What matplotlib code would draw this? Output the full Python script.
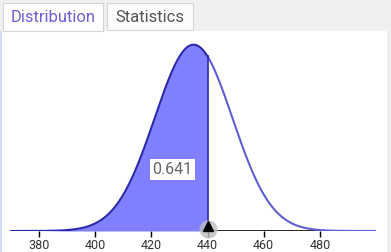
import numpy as np
import matplotlib.pyplot as plt
from matplotlib.patches import Rectangle

# ---------------- data ----------------
mean = 435
sd = 13.85
upper = 440
prob_label = "0.641"
tick_values = [380, 400, 420, 440, 460, 480]
tabs = ["Distribution", "Statistics"]

plt.rcParams['font.family'] = ['Roboto', 'DejaVu Sans']

W, H = 391, 252
fig = plt.figure(figsize=(W / 100, H / 100), dpi=100)
fig.patch.set_facecolor("white")

# tab strip
fig.patches.append(Rectangle((0, (H - 31) / H), 1, 31 / H, transform=fig.transFigure,
                             facecolor="#f0f0f0", edgecolor="none", zorder=0))
fig.patches.append(Rectangle((3 / W, (H - 31) / H), 100 / W, 28 / H, transform=fig.transFigure,
                             facecolor="white", edgecolor="#d6d6d6", lw=0.8, zorder=1))
fig.patches.append(Rectangle((107 / W, (H - 30) / H), 86 / W, 27 / H, transform=fig.transFigure,
                             facecolor="#fbfbfb", edgecolor="#d6d6d6", lw=0.8, zorder=1))
fig.text(53 / W, (H - 17) / H, tabs[0], color="#6b5fd6", fontsize=12,
         ha="center", va="center")
fig.text(150 / W, (H - 17) / H, tabs[1], color="#555555", fontsize=12,
         ha="center", va="center")
# left and right borders
fig.patches.append(Rectangle((0, 0), 2 / W, (H - 31) / H, transform=fig.transFigure,
                             facecolor="#cfe0f5", edgecolor="none"))
fig.patches.append(Rectangle((387 / W, 0), 4 / W, (H - 31) / H, transform=fig.transFigure,
                             facecolor="#eeeeee", edgecolor="none"))

# plot axes: x from px 10 to 376, y from px 231 (axis) up to 35
ax = fig.add_axes([10 / W, (H - 231) / H, 366 / W, 196 / H])
ax.set_xlim(369.6, 500)
peak = 1 / (sd * np.sqrt(2 * np.pi))
ax.set_ylim(0, peak * 196 / 186.3)
ax.patch.set_alpha(0)

x = np.linspace(369.6, 500, 800)
y = np.exp(-0.5 * ((x - mean) / sd) ** 2) / (sd * np.sqrt(2 * np.pi))

xs = x[x <= upper]
xs = np.append(xs, upper)
ys = np.exp(-0.5 * ((xs - mean) / sd) ** 2) / (sd * np.sqrt(2 * np.pi))

ax.axhline(0, color="black", lw=1.2, zorder=1)
ax.fill_between(xs, 0, ys, color="#8080ff", lw=0, zorder=2)
ax.plot(x[x >= upper], y[x >= upper], color="#5f5fd4", lw=1.5, zorder=3)
ax.plot(xs, ys, color="#2a2aa8", lw=1.5, zorder=3)
ax.plot([upper, upper], [0, ys[-1]], color="#2a2aa8", lw=1.2, zorder=3)

for s in ax.spines.values():
    s.set_visible(False)
ax.set_yticks([])
ax.set_xticks(tick_values)
ax.tick_params(axis="x", length=4, width=1, color="black", labelsize=9,
               labelcolor="#333333", pad=2)

# label with probability
ax.text(mean - 7.5, peak * 0.33, prob_label, fontsize=11.5, color="#666666",
        ha="center", va="center",
        bbox=dict(facecolor="white", edgecolor="none", pad=2))

# marker at the upper bound
ax.plot(upper, peak * 0.01, "o", ms=13, color="#bdbdbd", alpha=0.8,
        clip_on=False, zorder=4, mec="none")
ax.plot(upper, peak * 0.025, "^", ms=7, color="black", clip_on=False, zorder=5)

fig.savefig("out.png", dpi=100)
